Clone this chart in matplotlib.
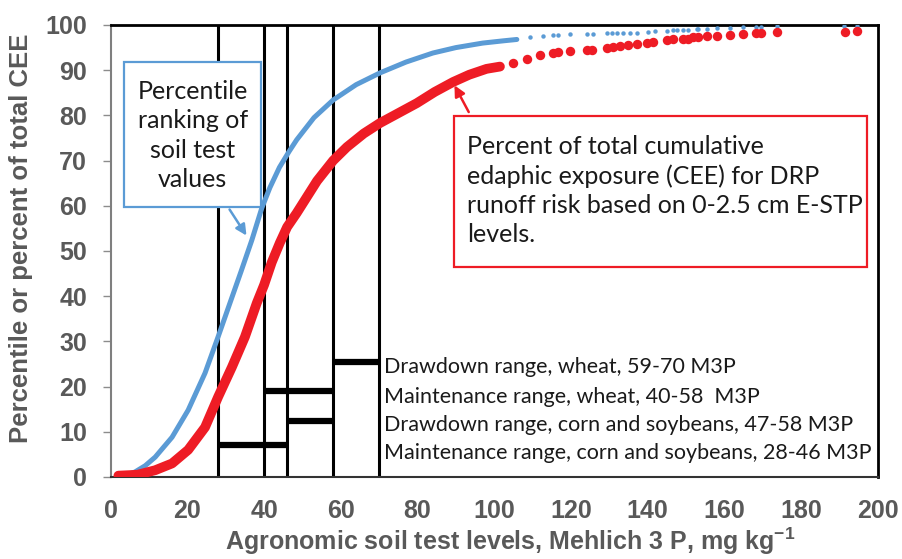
import matplotlib
matplotlib.use('Agg')
import matplotlib.pyplot as plt
from matplotlib.patches import Rectangle

plt.rcParams['mathtext.fontset'] = 'custom'
plt.rcParams['mathtext.rm'] = 'Liberation Sans:bold'
plt.rcParams['mathtext.default'] = 'rm'

# percentile ranking of soil test values (blue), dense part
blue_x = [2.5, 6.3, 9, 11.6, 16, 20.2, 24.6, 28, 31.1, 34, 36.8, 39.4, 41.5, 44, 46.5, 48.5,
          53, 58, 64, 70.2, 77, 84, 90, 97, 102.4, 105.9]
blue_y = [0, 1.1, 2.5, 4.4, 8.8, 14.8, 23, 31, 38.5, 45.5, 52.4, 59.5, 64, 68.5, 72, 74.6,
          79.5, 83.4, 86.8, 89.4, 91.8, 93.8, 95, 96, 96.5, 96.8]
# sparse tail points
blue_tail_x = [109.3, 112.8, 115.4, 116.7, 119.8, 124.1, 125.8, 129.3, 130.6, 131.9, 133.7,
               135.4, 137.2, 140.2, 141.9, 145, 146.7, 147.6, 149.3, 150.6, 152.8, 153.2,
               155.4, 158.2, 161.5, 165, 168.3, 169.5, 173.7, 191.2, 194.5]
blue_tail_y = [97.3, 97.6, 97.8, 97.8, 98.0, 98.0, 98.0, 98.2, 98.2, 98.3, 98.3,
               98.3, 98.3, 98.5, 98.7, 98.7, 98.9, 99.0, 99.0, 99.0, 99.1, 99.1,
               99.2, 99.3, 99.3, 99.5, 99.6, 99.6, 99.7, 99.85, 99.85]

# percent of total CEE (red)
red_x = [2, 7, 11.6, 16, 20.2, 24.6, 28, 31.6, 35, 38.1, 40, 42, 44.1, 46, 48.5, 53.8, 58,
         61.6, 66, 70.2, 75, 79.8, 84.5, 89.3, 93.5, 98, 101.5]
red_y = [0.3, 0.5, 1.5, 3, 6, 11, 17.7, 24.3, 31, 38.5, 42.5, 47.5, 51.8, 55.3, 58.4, 65.5, 70,
         73, 76, 78.3, 80.5, 82.7, 85.2, 87.4, 89, 90.3, 90.8]
red_tail_x = [105, 108.5, 111.9, 115.4, 116.7, 119.8, 124.1, 125.4, 129.3, 131, 132.8, 135,
              137.2, 139.8, 141.5, 145, 146.7, 149.3, 150.6, 151.9, 153.2, 155.6, 158.2,
              161.5, 165, 168.3, 169.5, 173.7, 191.5, 194.5]
red_tail_y = [91.7, 92.4, 93.4, 93.9, 94.0, 94.2, 94.5, 94.5, 95.0, 95.2, 95.4, 95.6,
              95.8, 96.1, 96.3, 96.7, 96.8, 97.0, 97.0, 97.3, 97.3, 97.5, 97.6,
              97.8, 98.0, 98.2, 98.2, 98.4, 98.5, 98.7]

# recommended ranges (M3P); bars run between the vertical guide lines
vlines_at = [28, 40, 46, 58, 70]
bar_start = [58, 40, 46, 28]
bar_end = [70, 58, 58, 46]
range_y = [25.5, 19, 12.5, 7]
range_labels = ['Drawdown range, wheat, 59-70 M3P',
                'Maintenance range, wheat, 40-58  M3P',
                'Drawdown range, corn and soybeans, 47-58 M3P',
                'Maintenance range, corn and soybeans, 28-46 M3P']
label_y = [24.3, 17.8, 11.6, 5.4]

blue = '#5B9BD5'
red = '#EE1C25'
grey = '#595959'

fig = plt.figure(figsize=(9.02, 5.59), dpi=100)
ax = fig.add_axes([110.7 / 902, 82 / 559, 767 / 902, 452 / 559])

for v in vlines_at:
    ax.plot([v, v], [0, 100], color='black', lw=2.2, zorder=2)
for a, b, yy in zip(bar_start, bar_end, range_y):
    ax.plot([a, b], [yy, yy], color='black', lw=4.5, solid_capstyle='butt', zorder=2)
for txt, yy in zip(range_labels, label_y):
    ax.text(71.2, yy, txt, fontsize=15.5, family='Lato', va='center', ha='left', color='#1a1a1a')

ax.plot(blue_x, blue_y, color=blue, lw=3.6, zorder=3, solid_capstyle='round')
ax.plot(blue_tail_x, blue_tail_y, 'o', color=blue, ms=3.2, mew=0, zorder=3)
ax.plot(red_x, red_y, color=red, lw=7, zorder=4, solid_capstyle='round')
ax.plot(red_tail_x, red_tail_y, 'o', color=red, ms=6.8, mew=0, zorder=4)

ax.set_xlim(0, 200)
ax.set_ylim(0, 100)
ax.set_xticks(range(0, 201, 20))
ax.set_yticks(range(0, 101, 10))
ax.tick_params(axis='y', length=6, width=1, color='#8c8c8c', pad=11, labelsize=18, labelcolor=grey)
ax.tick_params(axis='x', length=0, pad=16, labelsize=18, labelcolor=grey)
for lab in ax.get_xticklabels() + ax.get_yticklabels():
    lab.set_fontweight('bold')
    lab.set_family('Liberation Sans')
ax.spines['top'].set_linewidth(2)
ax.spines['right'].set_linewidth(2)
ax.spines['left'].set_color('#7f7f7f')
ax.spines['left'].set_linewidth(1.5)
ax.spines['bottom'].set_color('#333333')
ax.spines['bottom'].set_linewidth(1.5)

# callout boxes
ax.add_patch(Rectangle((3.5, 59.7), 35.7, 32.1, facecolor='white', edgecolor=blue, lw=1.6, zorder=6))
ax.text(21.35, 75.6, 'Percentile\nranking of\nsoil test\nvalues', ha='center', va='center',
        fontsize=18, family='Lato', linespacing=1.34, zorder=7, color='#1a1a1a')
ax.annotate('', xy=(35.8, 52.9), xytext=(30.6, 59.7),
            arrowprops=dict(arrowstyle='-|>', color=blue, lw=1.8, mutation_scale=16), zorder=6)

ax.add_patch(Rectangle((89.5, 46.5), 107.7, 33.4, facecolor='white', edgecolor=red, lw=1.6,
                       zorder=6, clip_on=False))
ax.text(92.9, 63.4, 'Percent of total cumulative\nedaphic exposure (CEE) for DRP\n'
        'runoff risk based on 0-2.5 cm E-STP\nlevels.', ha='left', va='center',
        fontsize=18, family='Lato', linespacing=1.32, zorder=7, color='#1a1a1a')
ax.annotate('', xy=(89.3, 87.2), xytext=(93.7, 80.2),
            arrowprops=dict(arrowstyle='-|>', color=red, lw=1.8, mutation_scale=16), zorder=6)

fig.text(510 / 902, 1 - 541 / 559, 'Agronomic soil test levels, Mehlich 3 P, mg kg$^{-1}$',
         ha='center', va='center', fontsize=18, fontweight='bold', family='Liberation Sans', color=grey)
fig.text(21 / 902, 1 - 238 / 559, 'Percentile or percent of total CEE', rotation=90,
         ha='center', va='center', fontsize=18.5, fontweight='bold', family='Liberation Sans', color=grey)

fig.savefig('out.png', dpi=100, facecolor='white')
